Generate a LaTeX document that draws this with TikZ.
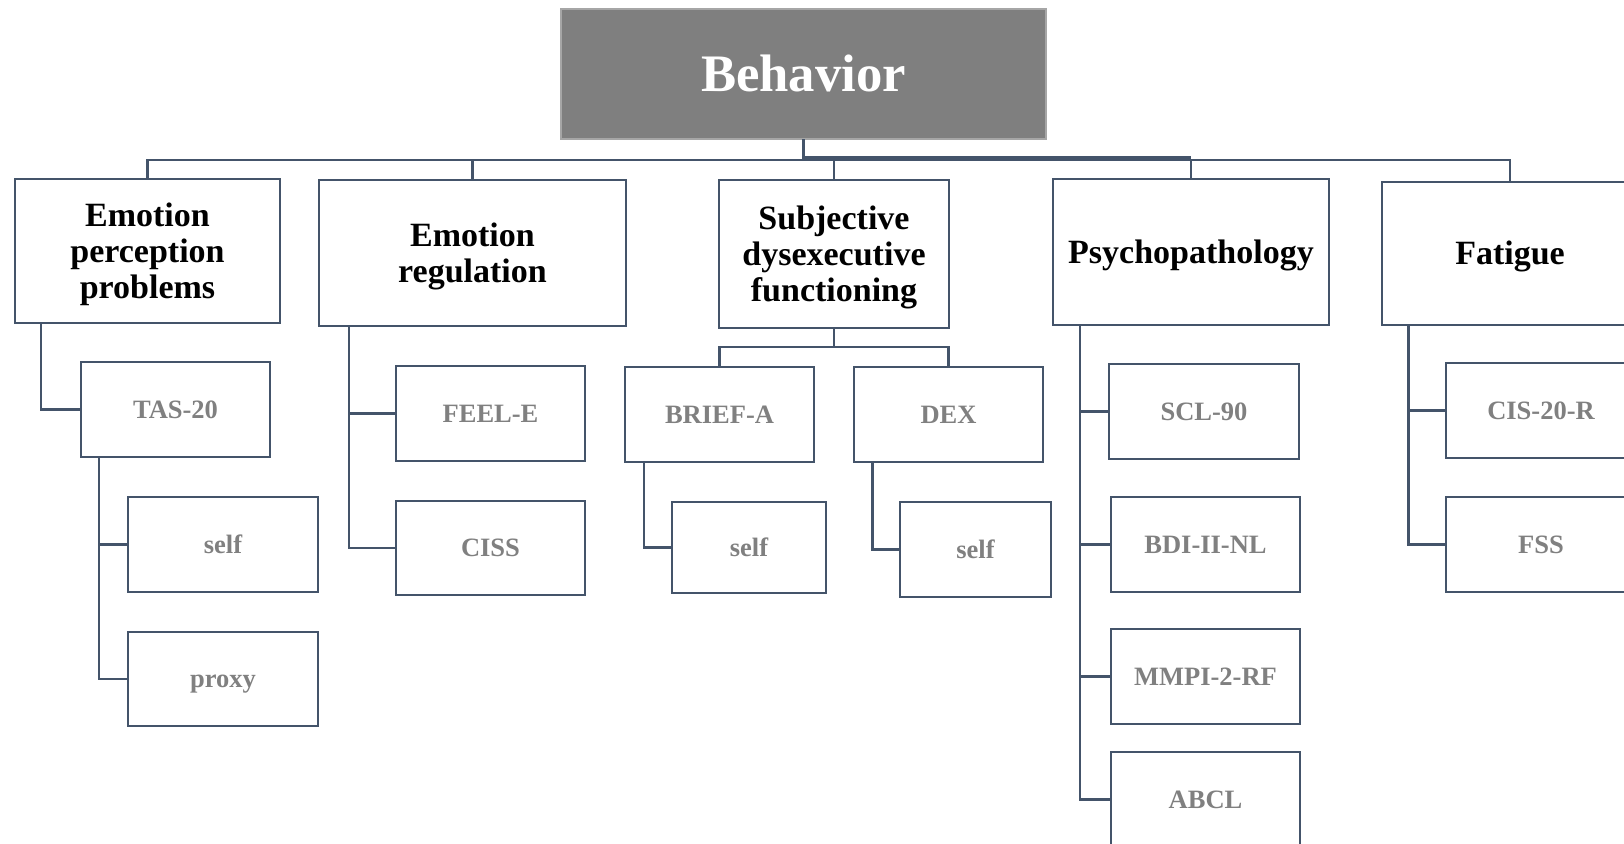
\documentclass[tikz,border=0pt]{standalone}
\usepackage{fontspec}
\setmainfont{Liberation Serif}
\definecolor{lnc}{HTML}{44546A}
\definecolor{behfill}{HTML}{7F7F7F}
\definecolor{behline}{HTML}{A6A6A6}
\definecolor{subtxt}{HTML}{808080}
\begin{document}
\begin{tikzpicture}[x=1pt,y=-1pt,
  box/.style={draw=lnc, line width=2.6pt, fill=white, rectangle, inner sep=0pt, outer sep=0pt, align=center},
  topbox/.style={draw=behline, line width=2.6pt, fill=behfill, rectangle, inner sep=0pt, outer sep=0pt,
     text=white, font=\bfseries\fontsize{52.7}{60}\selectfont, text height=46.9pt, text depth=11.6pt},
  lone/.style={box, font=\bfseries\fontsize{34}{36}\selectfont, text=black, text depth=1.5pt},
  lonesingle/.style={box, font=\bfseries\fontsize{34}{36}\selectfont, text=black, text height=30.3pt, text depth=7.5pt},
  ltwo/.style={box, font=\bfseries\fontsize{26.5}{30}\selectfont, text=subtxt, text height=23.6pt, text depth=5.8pt},
  conn/.style={draw=lnc, line width=2.6pt}
]
\useasboundingbox (0,0) rectangle (1624,843);
\clip (0,0) rectangle (1624,843);

% top
\node[topbox, minimum width=485pt, minimum height=130pt] (Beh) at (803.5,74) {Behavior};
\coordinate (bus) at (803.5,160);

% level 1
\node[lone, minimum width=265pt, minimum height=144pt] (EPP) at (147.5,251) {Emotion\\perception\\problems};
\node[lone, minimum width=307pt, minimum height=146pt] (ER) at (472.5,253) {Emotion\\regulation};
\node[lone, minimum width=230pt, minimum height=148pt] (SDF) at (834,254) {Subjective\\dysexecutive\\functioning};
\node[lonesingle, minimum width=276pt, minimum height=146pt] (Psy) at (1191,252) {Psychopathology};
\node[lonesingle, minimum width=256pt, minimum height=143pt] (Fat) at (1510,253.5) {Fatigue};

% level 2
\node[ltwo, minimum width=189pt, minimum height=95pt] (TAS) at (175.5,409.5) {TAS-20};
\node[ltwo, minimum width=190pt, minimum height=95pt] (selfA) at (223,544.5) {self};
\node[ltwo, minimum width=190pt, minimum height=94pt] (proxy) at (223,679) {proxy};
\node[ltwo, minimum width=189pt, minimum height=95pt] (FEEL) at (490.5,413.5) {FEEL-E};
\node[ltwo, minimum width=189pt, minimum height=94pt] (CISS) at (490.5,548) {CISS};
\node[ltwo, minimum width=189pt, minimum height=95pt] (BRIEF) at (719.5,414.5) {BRIEF-A};
\node[ltwo, minimum width=189pt, minimum height=95pt] (DEX) at (948.5,414.5) {DEX};
\node[ltwo, minimum width=154pt, minimum height=91pt] (selfB) at (749,547.5) {self};
\node[ltwo, minimum width=151pt, minimum height=95pt] (selfC) at (975.5,549.5) {self};
\node[ltwo, minimum width=190pt, minimum height=95pt] (SCL) at (1204,411.5) {SCL-90};
\node[ltwo, minimum width=189pt, minimum height=95pt] (BDI) at (1205.5,544.5) {BDI-II-NL};
\node[ltwo, minimum width=189pt, minimum height=95pt] (MMPI) at (1205.5,676.5) {MMPI-2-RF};
\node[ltwo, minimum width=189pt, minimum height=95pt] (ABCL) at (1205.5,799.5) {ABCL};
\node[ltwo, minimum width=190pt, minimum height=95pt] (CIS) at (1541,410.5) {CIS-20-R};
\node[ltwo, minimum width=190pt, minimum height=95pt] (FSS) at (1541,544.5) {FSS};

% connectors top
\draw[conn] (Beh.south) -- (bus);
\draw[conn] (EPP.north) |- (bus);
\draw[conn] (Fat.north) |- (bus);
\draw[conn] (ER.north) -- (ER.north |- bus);
\draw[conn] (SDF.north) -- (SDF.north |- bus);
\draw[conn] (Psy.north) -- (Psy.north |- bus);
\draw[conn] ([yshift=2.5pt]bus) -- ([yshift=2.5pt]bus -| Psy.north);

% EPP
\draw[conn] ([xshift=26pt]EPP.south west) |- (TAS.west);
\draw[conn] ([xshift=18pt]TAS.south west) |- (selfA.west);
\draw[conn] ([xshift=18pt]TAS.south west) |- (proxy.west);
% ER
\draw[conn] ([xshift=30pt]ER.south west) |- (FEEL.west);
\draw[conn] ([xshift=30pt]ER.south west) |- (CISS.west);
% SDF
\coordinate (sbus) at (834,347);
\draw[conn] (SDF.south) -- (sbus);
\draw[conn] (BRIEF.north) |- (sbus);
\draw[conn] (DEX.north) |- (sbus);
\draw[conn] ([xshift=19pt]BRIEF.south west) |- (selfB.west);
\draw[conn] ([xshift=18.5pt]DEX.south west) |- (selfC.west);
% Psy
\draw[conn] ([xshift=27pt]Psy.south west) |- (SCL.west);
\draw[conn] ([xshift=27pt]Psy.south west) |- (BDI.west);
\draw[conn] ([xshift=27pt]Psy.south west) |- (MMPI.west);
\draw[conn] ([xshift=27pt]Psy.south west) |- (ABCL.west);
% Fatigue
\draw[conn] ([xshift=26.5pt]Fat.south west) |- (CIS.west);
\draw[conn] ([xshift=26.5pt]Fat.south west) |- (FSS.west);
\end{tikzpicture}
\end{document}
